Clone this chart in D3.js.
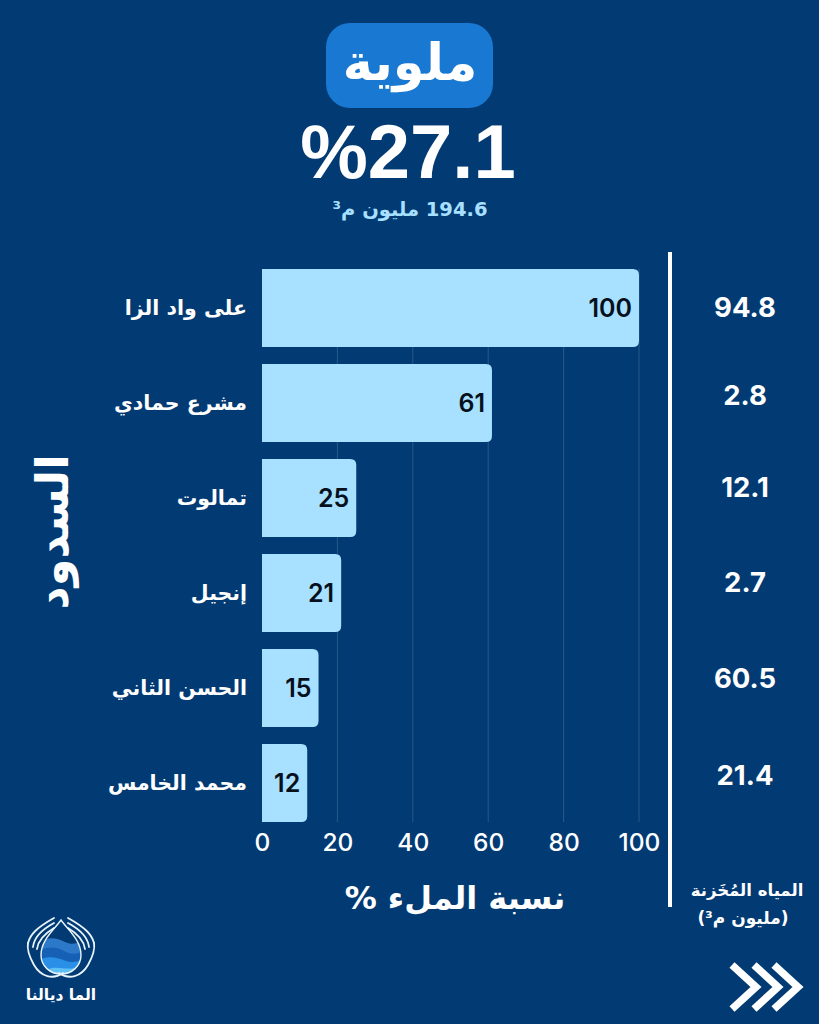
<!DOCTYPE html>
<html>
<head>
<meta charset="utf-8">
<script src="https://cdn.jsdelivr.net/npm/d3@7"></script>
<style>
html, body { margin: 0; padding: 0; background: #023a73; }
svg { display: block; }
text { font-family: "DejaVu Sans", sans-serif; }
</style>
</head>
<body>
<div id="chart"></div>
<script>
// chart values
var dams = ["على واد الزا", "مشرع حمادي", "تمالوت", "إنجيل", "الحسن الثاني", "محمد الخامس"];
var fillRate = [100, 61, 25, 21, 15, 12];
var stored = ["94.8", "2.8", "12.1", "2.7", "60.5", "21.4"];
var xTicks = [0, 20, 40, 60, 80, 100];

var WIDTH = 819, HEIGHT = 1024;
var LIGHT = "#a8e0ff", BLUE = "#1878d2";
var DIGITS = 'Inter, "DejaVu Sans", sans-serif';

var svg = d3.select("#chart").append("svg")
	.attr("width", WIDTH)
	.attr("height", HEIGHT);

svg.append("rect")
	.attr("width", WIDTH)
	.attr("height", HEIGHT)
	.attr("fill", "#023a73");

var x = d3.scaleLinear().domain([0, 100]).range([262, 639]);
var y = d3.scaleBand().domain(dams).range([269, 822]).paddingInner(0.18).paddingOuter(0);
// the stored column drifts a bit from the bars in the original, rows get slowly wider
var yStored = d3.scalePow().exponent(1.04).domain([0, dams.length - 1]).range([307, 775]);

function drawHeader() {
	svg.append("rect")
		.attr("x", 326).attr("y", 23)
		.attr("width", 167).attr("height", 85)
		.attr("rx", 24)
		.attr("fill", BLUE);
	svg.append("text")
		.attr("x", 410).attr("y", 80)
		.attr("text-anchor", "middle")
		.attr("font-size", 51).attr("font-weight", 700)
		.attr("fill", "#fff")
		.text("ملوية");
	svg.append("text")
		.attr("x", 408).attr("y", 178)
		.attr("text-anchor", "middle")
		.style("direction", "ltr")
		.style("font-family", '"Liberation Sans", sans-serif')
		.attr("font-size", 76).attr("font-weight", 700)
		.attr("fill", "#fff")
		.text("%27.1");
	svg.append("text")
		.attr("x", 410).attr("y", 216)
		.attr("text-anchor", "middle")
		.style("direction", "rtl")
		.attr("font-size", 19.5).attr("font-weight", 700)
		.attr("fill", LIGHT)
		.text("194.6 مليون م³");
}

function drawBars() {
	svg.append("g").selectAll("line")
		.data(xTicks.slice(1))
		.join("line")
		.attr("x1", x).attr("x2", x)
		.attr("y1", 269).attr("y2", 822)
		.attr("stroke", "#fff")
		.attr("stroke-opacity", 0.16)
		.attr("stroke-width", 1);

	var rows = d3.zip(dams, fillRate);

	svg.append("g").selectAll("path")
		.data(rows)
		.join("path")
		.attr("fill", LIGHT)
		.attr("d", function(d) {
			var x0 = x(0), x1 = x(d[1]), y0 = y(d[0]), h = y.bandwidth(), r = 6;
			return "M" + x0 + "," + y0 + "H" + (x1 - r)
				+ "Q" + x1 + "," + y0 + " " + x1 + "," + (y0 + r)
				+ "V" + (y0 + h - r)
				+ "Q" + x1 + "," + (y0 + h) + " " + (x1 - r) + "," + (y0 + h)
				+ "H" + x0 + "Z";
		});

	svg.append("g").selectAll("text")
		.data(rows)
		.join("text")
		.attr("x", function(d) { return x(d[1]) - 7; })
		.attr("y", function(d) { return y(d[0]) + y.bandwidth() / 2 + 9; })
		.attr("text-anchor", "end")
		.style("font-family", DIGITS)
		.attr("font-size", 25).attr("font-weight", 600)
		.attr("fill", "#06101c")
		.text(function(d) { return d[1]; });

	svg.append("g").selectAll("text")
		.data(dams)
		.join("text")
		.attr("x", 247)
		.attr("y", function(d) { return y(d) + y.bandwidth() / 2 + 7; })
		.attr("text-anchor", "end")
		.style("direction", "ltr")
		.attr("font-size", 20.5).attr("font-weight", 700)
		.attr("fill", "#fff")
		.text(function(d) { return d; });
}

function drawAxis() {
	var axis = d3.axisBottom(x).tickValues(xTicks).tickSize(0).tickPadding(0);
	var g = svg.append("g").attr("transform", "translate(0,833)").call(axis);
	g.select(".domain").remove();
	g.selectAll("text")
		.attr("dy", 0).attr("y", 18)
		.attr("font-size", 24.5)
		.style("font-family", DIGITS)
		.attr("font-weight", 500)
		.attr("fill", "#fff");

	svg.append("text")
		.attr("x", 455).attr("y", 909)
		.attr("text-anchor", "middle")
		.style("direction", "rtl")
		.attr("font-size", 32).attr("font-weight", 700)
		.attr("fill", "#fff")
		.text("نسبة الملء %");

	svg.append("text")
		.attr("transform", "translate(68,532) rotate(-90)")
		.attr("text-anchor", "middle")
		.attr("font-size", 45).attr("font-weight", 700)
		.attr("fill", "#fff")
		.text("السدود");
}

function drawStored() {
	svg.append("rect")
		.attr("x", 668).attr("y", 252)
		.attr("width", 4).attr("height", 655)
		.attr("fill", "#fff");

	svg.append("g").selectAll("text")
		.data(stored)
		.join("text")
		.attr("x", 745)
		.attr("y", function(d, i) { return yStored(i) + 10; })
		.attr("text-anchor", "middle")
		.style("font-family", DIGITS)
		.attr("font-size", 27.5).attr("font-weight", 700)
		.attr("fill", "#fff")
		.text(function(d) { return d; });

	svg.append("text")
		.attr("x", 747).attr("y", 896)
		.attr("text-anchor", "middle")
		.attr("font-size", 16.5).attr("font-weight", 700)
		.attr("fill", "#fff")
		.text("المياه المُخَزنة");
	svg.append("text")
		.attr("x", 743).attr("y", 924)
		.attr("text-anchor", "middle")
		.style("direction", "rtl")
		.attr("font-size", 17).attr("font-weight", 700)
		.attr("fill", "#fff")
		.text("(مليون م³)");
}

// logo bottom left, drawn by hand
function drawLogo() {
	var g = svg.append("g").attr("transform", "translate(61,950)");
	var drop = "M0,-30C7,-20 20,-10 20,5C20,16 11,24 0,24C-11,24 -20,16 -20,5C-20,-10 -7,-20 0,-30Z";

	g.append("clipPath").attr("id", "dropClip").append("path").attr("d", drop);
	var water = g.append("g").attr("clip-path", "url(#dropClip)");
	[
		["M-22,-8C-12,-14 -4,-12 4,-8C10,-5 16,-6 22,-10V26H-22Z", "#2d79c9"],
		["M-22,1C-12,-5 -2,-2 5,2C11,5 17,4 22,1V26H-22Z", "#1660b5"],
		["M-22,10C-12,5 -3,8 5,11C11,13 17,12 22,9V26H-22Z", "#2a8fe6"],
		["M-14,20C-7,15 5,20 13,18V26H-14Z", "#5cc0f5"]
	].forEach(function(w) {
		water.append("path").attr("d", w[0]).attr("fill", w[1]);
	});
	g.append("path").attr("d", drop)
		.attr("fill", "none").attr("stroke", "#e8f4fb").attr("stroke-width", 1.4);

	[1, -1].forEach(function(side) {
		var hand = g.append("g").attr("transform", "scale(" + side + ",1)")
			.attr("fill", "none").attr("stroke", "#e8f4fb")
			.attr("stroke-width", 1.8).attr("stroke-linecap", "round");
		hand.append("path").attr("d", "M-2,23C8,30 20,27 27,15C32,6 34,-2 33,-7");
		hand.append("path").attr("d", "M33,-7C31,-15 25,-22 7,-32");
		hand.append("path").attr("d", "M28,-3C27,-12 20,-20 7,-27");
		hand.append("path").attr("d", "M24,-1C23,-9 17,-16 7,-22");
	});

	svg.append("text")
		.attr("x", 61).attr("y", 1000)
		.attr("text-anchor", "middle")
		.attr("font-size", 15.5).attr("font-weight", 700)
		.attr("fill", "#fff")
		.text("الما ديالنا");
}

function drawArrows() {
	var line = d3.line();
	[756, 778, 798].forEach(function(tip) {
		svg.append("path")
			.attr("d", line([[tip - 24, 965], [tip, 987], [tip - 24, 1009]]))
			.attr("fill", "none")
			.attr("stroke", "#fff")
			.attr("stroke-width", 7.5);
	});
}

drawHeader();
drawBars();
drawAxis();
drawStored();
drawLogo();
drawArrows();
</script>
</body>
</html>
